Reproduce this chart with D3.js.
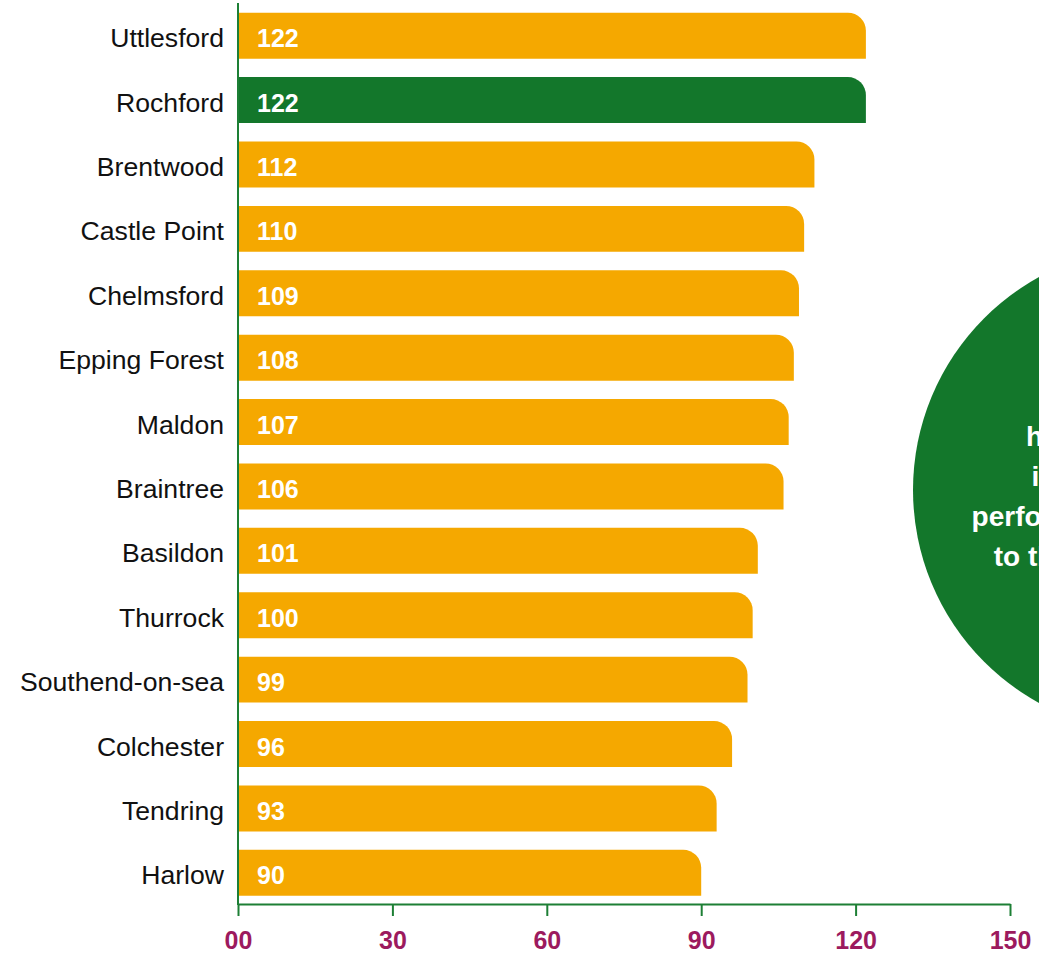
<!DOCTYPE html>
<html>
<head>
<meta charset="utf-8">
<script src="https://cdn.jsdelivr.net/npm/d3@7"></script>
<style>
  body { margin: 0; background: #fff; }
  svg { display: block; font-family: Arial, "Liberation Sans", sans-serif; }
</style>
</head>
<body>
<div id="chart"></div>
<script>
// --- DATA ---
const districts = ["Uttlesford", "Rochford", "Brentwood", "Castle Point", "Chelmsford",
  "Epping Forest", "Maldon", "Braintree", "Basildon", "Thurrock",
  "Southend-on-sea", "Colchester", "Tendring", "Harlow"];
const scores = [122, 122, 112, 110, 109, 108, 107, 106, 101, 100, 99, 96, 93, 90];
const highlighted = ["Rochford"];
const tickValues = [0, 30, 60, 90, 120, 150];
const tickLabels = ["00", "30", "60", "90", "120", "150"];
const calloutLines = ["Rochford", "has shown the best", "improvement in its",
  "performance in comparison", "to the rest of the county."];

// --- CONFIG ---
const width = 1039, height = 953;
const orange = "#f5a800", green = "#13772b", axisGreen = "#1d7f35", tickColor = "#9c1a5e";

const svg = d3.select("#chart").append("svg")
  .attr("width", width)
  .attr("height", height);

const x = d3.scaleLinear().domain([0, 150]).range([238, 1010]);
const y = d3.scaleBand()
  .domain(districts)
  .range([3.5, 905])
  .paddingInner(0.286)
  .paddingOuter(0.143);

const rows = districts.map((name, i) => ({ name, value: scores[i] }));

// bar with only the top-right corner rounded
function barPath(d) {
  const x0 = x(0), x1 = x(d.value), top = y(d.name), h = y.bandwidth(), r = 18;
  return `M${x0},${top} H${x1 - r} A${r},${r} 0 0 1 ${x1},${top + r} V${top + h} H${x0} Z`;
}

svg.append("g")
  .selectAll("path")
  .data(rows)
  .join("path")
  .attr("d", barPath)
  .attr("fill", d => highlighted.includes(d.name) ? green : orange);

// value labels inside the bars
svg.append("g")
  .selectAll("text")
  .data(rows)
  .join("text")
  .attr("x", x(0) + 19)
  .attr("y", d => y(d.name) + y.bandwidth() / 2 + 2.5)
  .attr("dominant-baseline", "central")
  .attr("fill", "#fff")
  .attr("font-weight", "bold")
  .attr("font-size", 25)
  .text(d => d.value);

// category labels
svg.append("g")
  .selectAll("text")
  .data(rows)
  .join("text")
  .attr("x", 224)
  .attr("y", d => y(d.name) + y.bandwidth() / 2 + 2.5)
  .attr("dominant-baseline", "central")
  .attr("text-anchor", "end")
  .attr("fill", "#111")
  .attr("font-size", 26.6)
  .text(d => d.name);

// axes
const xAxis = svg.append("g")
  .attr("transform", "translate(0,904)")
  .call(d3.axisBottom(x).tickValues(tickValues).tickSize(12).tickSizeOuter(0)
    .tickFormat((d, i) => tickLabels[i]));
xAxis.select(".domain").attr("stroke", axisGreen).attr("stroke-width", 2);
xAxis.selectAll(".tick line").attr("stroke", axisGreen).attr("stroke-width", 2);
xAxis.selectAll(".tick text")
  .attr("y", 36)
  .attr("dy", "0.35em")
  .attr("fill", tickColor)
  .attr("font-size", 25)
  .attr("font-weight", "bold")
  .attr("font-family", "Arial, 'Liberation Sans', sans-serif");

svg.append("line")
  .attr("x1", x(0)).attr("x2", x(0))
  .attr("y1", 3).attr("y2", 905)
  .attr("stroke", axisGreen)
  .attr("stroke-width", 2);

// callout circle on the right (cut by the page edge)
const cx = 1156, cy = 490, radius = 243;
svg.append("circle")
  .attr("cx", cx).attr("cy", cy).attr("r", radius)
  .attr("fill", green);

svg.append("g")
  .selectAll("text")
  .data(calloutLines)
  .join("text")
  .attr("x", cx)
  .attr("y", (d, i) => 396 + i * 40)
  .attr("dominant-baseline", "central")
  .attr("text-anchor", "middle")
  .attr("fill", "#fff")
  .attr("font-weight", "bold")
  .attr("font-size", 28)
  .text(d => d);
</script>
</body>
</html>
